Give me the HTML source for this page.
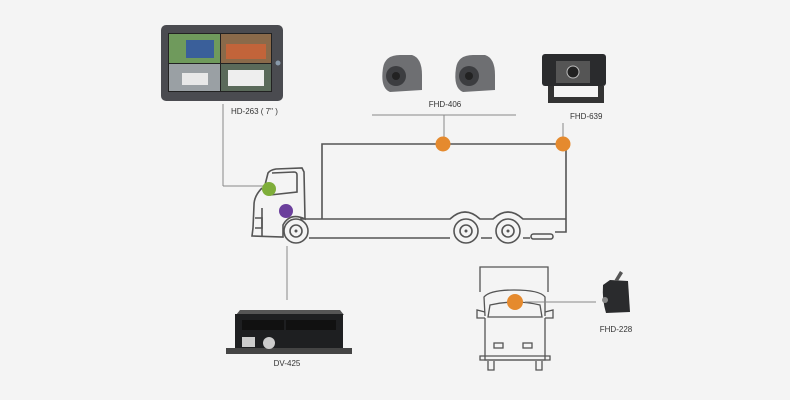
<!DOCTYPE html>
<html><head><meta charset="utf-8"><style>
html,body{margin:0;padding:0;background:#f4f4f4;}
svg{display:block;}
text{font-family:"Liberation Sans",sans-serif;font-size:8px;fill:#333;}
</style></head><body>
<svg width="790" height="400" viewBox="0 0 790 400" xmlns="http://www.w3.org/2000/svg">
<rect width="790" height="400" fill="#f4f4f4"/>
<!-- monitor -->
<rect x="161" y="25" width="122" height="76" rx="5" fill="#4a4b50"/>
<rect x="168" y="33" width="104" height="59" fill="#222"/>
<rect x="169" y="34" width="51" height="29" fill="#6f9a5c"/>
<rect x="186" y="40" width="28" height="18" fill="#3a5f9a"/>
<rect x="221" y="34" width="50" height="29" fill="#8a6a4a"/>
<rect x="226" y="44" width="40" height="15" fill="#c2643a"/>
<rect x="169" y="64" width="51" height="27" fill="#9aa0a4"/>
<rect x="182" y="73" width="26" height="12" fill="#e8e8e8"/>
<rect x="221" y="64" width="50" height="27" fill="#5a6a5a"/>
<rect x="228" y="70" width="36" height="16" fill="#eee"/>
<circle cx="278" cy="63" r="2.5" fill="#8899aa"/>
<line x1="223" y1="104" x2="223" y2="186" stroke="#888" stroke-width="1"/>
<line x1="223" y1="186" x2="265" y2="186" stroke="#888" stroke-width="1"/>
<text x="231" y="114">HD-263 ( 7" )</text>
<!-- FHD-406 cameras -->
<g fill="#6e6f72">
<path d="M383 68 Q385 55 400 55 L412 55 Q422 58 422 75 L422 90 L390 92 Q380 88 383 68Z"/>
<path d="M456 68 Q458 55 473 55 L485 55 Q495 58 495 75 L495 90 L463 92 Q453 88 456 68Z"/>
</g>
<circle cx="396" cy="76" r="10" fill="#3c3d40"/><circle cx="396" cy="76" r="4" fill="#222"/>
<circle cx="469" cy="76" r="10" fill="#3c3d40"/><circle cx="469" cy="76" r="4" fill="#222"/>
<text x="445" y="107" text-anchor="middle">FHD-406</text>
<line x1="372" y1="115" x2="516" y2="115" stroke="#888"/>
<line x1="444" y1="115" x2="444" y2="144" stroke="#888"/>
<!-- FHD-639 -->
<rect x="542" y="54" width="64" height="32" rx="3" fill="#2a2b2d"/>
<rect x="556" y="61" width="34" height="22" fill="#555"/>
<circle cx="573" cy="72" r="6" fill="#222" stroke="#bbb" stroke-width="1"/>
<path d="M548 86 L548 103 L604 103 L604 86 L598 86 L598 97 L554 97 L554 86Z" fill="#333"/>
<text x="570" y="119">FHD-639</text>
<line x1="563" y1="123" x2="563" y2="144" stroke="#888"/>
<!-- truck -->
<g fill="none" stroke="#555" stroke-width="1.6">
<path d="M322 219 L322 144 L566 144 L566 232 L555 232"/>
<path d="M300 219 L450 219 Q465 205 480 219 L493 219 Q508 205 523 219 L566 219"/>
<path d="M309 238 L450 238 M481 238 L492 238 M523 238 L530 238"/>
<rect x="531" y="234" width="22" height="5" rx="2.5"/>
<path d="M265 185 L268 173 Q270 170 276 169 L302 168 L304 172 L305 219 Q290 212 283 225 L283 237 L252 236 L253 228 L254 205 Q254 196 262 188"/>
<path d="M272 173 L294 172 Q297 172 297 175 L297 192 L270 195"/>
<path d="M255 218 L262 218 L262 228 L255 228"/>
<path d="M262 208 L262 236"/>
<circle cx="296" cy="231" r="12" fill="#f4f4f4"/><circle cx="296" cy="231" r="6"/>
<circle cx="466" cy="231" r="12" fill="#f4f4f4"/><circle cx="466" cy="231" r="6"/>
<circle cx="508" cy="231" r="12" fill="#f4f4f4"/><circle cx="508" cy="231" r="6"/>
</g>
<circle cx="296" cy="231" r="1.5" fill="#555"/><circle cx="466" cy="231" r="1.5" fill="#555"/><circle cx="508" cy="231" r="1.5" fill="#555"/>
<circle cx="269" cy="189" r="7" fill="#7fae3a"/>
<circle cx="286" cy="211" r="7" fill="#6b3f9c"/>
<circle cx="443" cy="144" r="7.5" fill="#e58a2e"/>
<circle cx="563" cy="144" r="7.5" fill="#e58a2e"/>
<line x1="287" y1="246" x2="287" y2="300" stroke="#888"/>
<!-- DVR -->
<path d="M236 315 L240 310 L340 310 L344 315Z" fill="#555"/>
<rect x="235" y="314" width="108" height="37" fill="#1e1f21"/>
<rect x="226" y="348" width="126" height="6" fill="#444"/>
<rect x="242" y="320" width="42" height="10" fill="#111"/>
<rect x="286" y="320" width="50" height="10" fill="#111"/>
<rect x="242" y="337" width="13" height="10" fill="#ccc"/>
<circle cx="269" cy="343" r="6" fill="#ccc"/>
<text x="287" y="366" text-anchor="middle">DV-425</text>
<!-- van -->
<g fill="none" stroke="#555" stroke-width="1.3">
<path d="M480 292 L480 267 L548 267 L548 292"/>
<path d="M485 316 L484 297 Q490 290 514 290 Q540 290 545 297 L545 316"/>
<path d="M488 317 L490 305 Q515 299 540 305 L542 317 Z"/>
<path d="M485 312 L477 310 L477 318 L485 318 M545 312 L553 310 L553 318 L545 318"/>
<path d="M485 318 L485 360 L545 360 L545 318"/>
<path d="M480 360 L480 356 L550 356 L550 360 Z"/>
<rect x="494" y="343" width="9" height="5"/><rect x="523" y="343" width="9" height="5"/>
<path d="M488 361 L488 370 L494 370 L494 361 M536 361 L536 370 L542 370 L542 361"/>
</g>
<circle cx="515" cy="302" r="8" fill="#e58a2e"/>
<line x1="525" y1="302" x2="596" y2="302" stroke="#888"/>
<!-- FHD-228 -->
<path d="M603 285 L610 280 L628 281 L630 312 L606 313 Q602 300 603 285Z" fill="#2a2b2d"/>
<path d="M614 281 L620 271 L623 273 L618 281" fill="#555"/>
<circle cx="605" cy="300" r="3" fill="#888"/>
<text x="616" y="332" text-anchor="middle">FHD-228</text>
</svg>
</body></html>
